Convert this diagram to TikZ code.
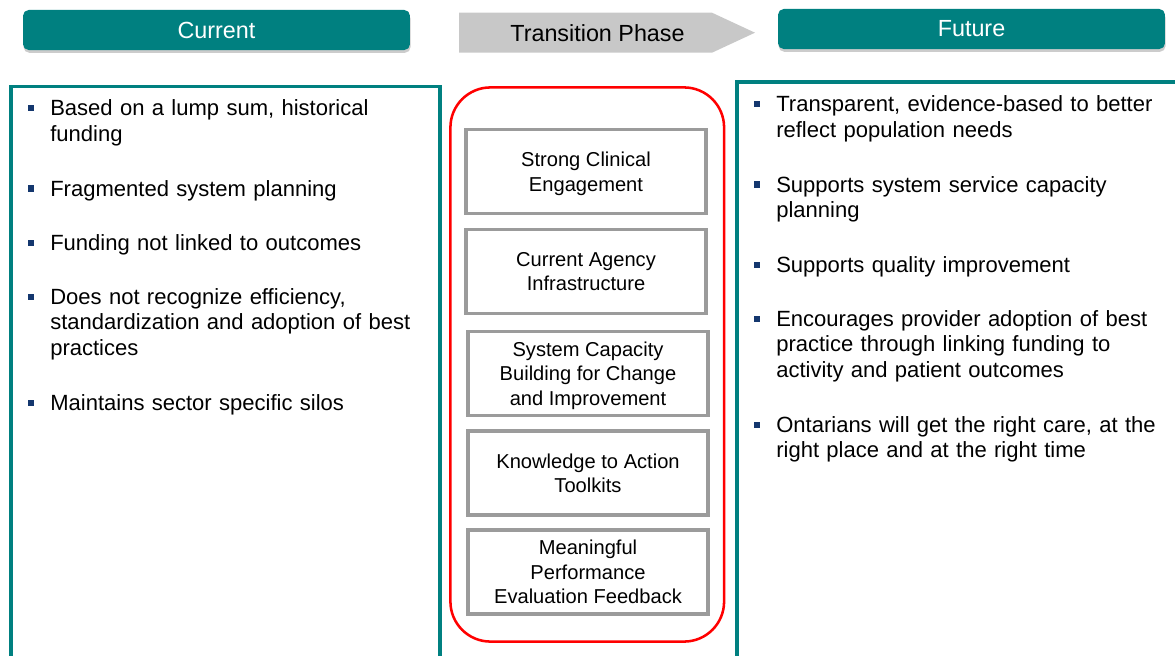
\documentclass[tikz,border=0pt]{standalone}
\usepackage{fontspec}
\setmainfont{Liberation Sans}
\usetikzlibrary{positioning, calc, shadows}

\definecolor{headteal}{RGB}{0,128,128}
\definecolor{boxgray}{RGB}{155,155,155}
\definecolor{phasegray}{RGB}{200,200,200}
\definecolor{bulletblue}{RGB}{20,55,110}

\begin{document}
\begin{tikzpicture}[
  x=0.025cm, y=-0.025cm,
  header/.style = {fill=headteal, rounded corners=4pt, minimum width=9.67cm, minimum height=1.0cm,
    inner sep=0pt, text=white, font=\fontsize{16.6}{20}\selectfont,
    drop shadow={shadow xshift=0.4pt, shadow yshift=-2pt, fill=black!40}},
  panel/.style = {draw=headteal, line width=2.4pt},
  frame/.style = {draw=red, line width=1.8pt, rounded corners=1cm, minimum width=6.84cm, minimum height=13.85cm},
  step_box/.style = {draw=boxgray, line width=2.2pt, minimum width=6.0cm, minimum height=2.1cm,
    align=center, inner sep=0pt, text depth=0pt, font=\fontsize{14.3}{17.4}\selectfont},
  item/.style = {anchor=base west, inner sep=0pt, text width=9.8cm, align=left,
    font=\fontsize{15.66}{18.43}\selectfont},
  bullet/.style = {fill=bulletblue, minimum size=0.15cm, inner sep=0pt}
]

\useasboundingbox (0,0) rectangle (1175,656);
\clip (0,0) rectangle (1175,656);

%--------------------------------------------------
% Headers
%--------------------------------------------------
\node[header] (cur_head) at (216.5,30) {Current};
\node[header] (fut_head) at (971.5,29) {Future};

\fill[phasegray] (459,12.7) -- (712,12.7) -- (755,32.7) -- (712,52.7) -- (459,52.7) -- cycle;
\node[inner sep=0pt, font=\fontsize{16.6}{20}\selectfont] (trans_head) at (597.5,33.3) {Transition Phase};

%--------------------------------------------------
% Panels
%--------------------------------------------------
\draw[panel] (11,86.5) rectangle (440,700);
\draw[panel] (737,82) rectangle (1200,700);

\node[frame] (trans_frame) at (587.25,364.5) {};

%--------------------------------------------------
% Current (left)
%--------------------------------------------------
\foreach \y/\txt [count=\i] in {
  116/{Based on a lump sum, historical\\funding},
  196/{Fragmented system planning},
  250/{Funding not linked to outcomes},
  304/{Does not recognize efficiency,\\standardization and adoption of best\\practices},
  410/{Maintains sector specific silos}}
{
  \node[item] (cur_\i) at (50,\y) {\txt};
  \node[bullet] (cur_b\i) at (31,\y-7.5) {};
}

%--------------------------------------------------
% Transition phase (middle)
%--------------------------------------------------
\node[step_box] (s_clinical) at (586,171.5) {Strong Clinical\\Engagement};
\node[step_box] (s_agency) at (586,271.5) {Current Agency\\Infrastructure};
\node[step_box] (s_capacity) at (588,373.5) {System Capacity\\Building for Change\\and Improvement};
\node[step_box] (s_toolkits) at (588,473) {Knowledge to Action\\Toolkits};
\node[step_box] (s_feedback) at (588,572) {Meaningful\\Performance\\Evaluation Feedback};

%--------------------------------------------------
% Future (right)
%--------------------------------------------------
\foreach \y/\txt [count=\i] in {
  112/{Transparent, evidence-based to better\\reflect population needs},
  192/{Supports system service capacity\\planning},
  272/{Supports quality improvement},
  326/{Encourages provider adoption of best\\practice through linking funding to\\activity and patient outcomes},
  432/{Ontarians will get the right care, at the\\right place and at the right time}}
{
  \node[item] (fut_\i) at (776,\y) {\txt};
  \node[bullet] (fut_b\i) at (757,\y-7.5) {};
}

\end{tikzpicture}
\end{document}
